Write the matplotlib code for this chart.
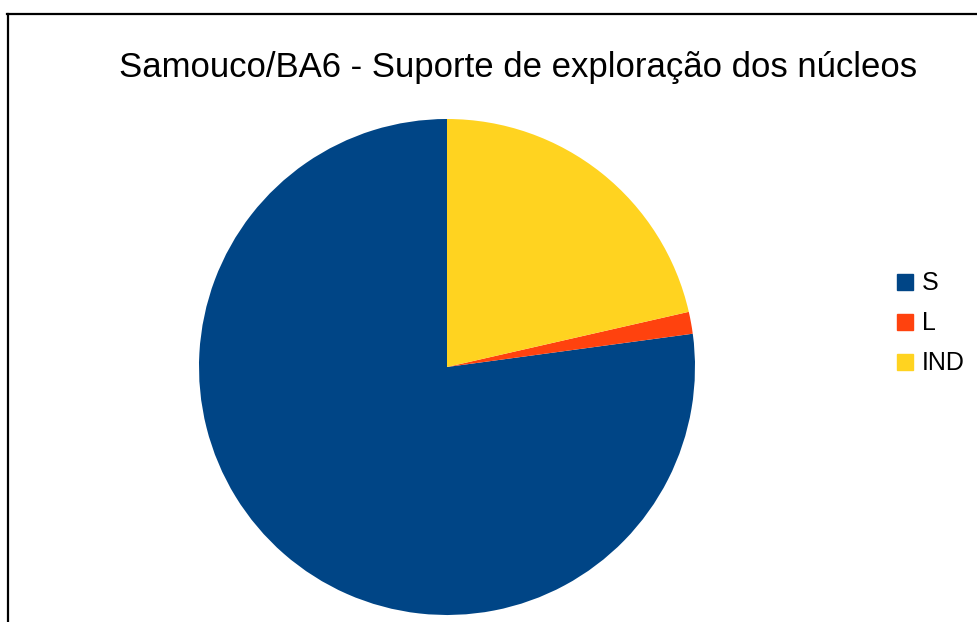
import matplotlib.pyplot as plt
from matplotlib.patches import Rectangle
from matplotlib.lines import Line2D

plt.rcParams['font.family'] = ['Liberation Sans', 'DejaVu Sans']

# data
labels = ['S', 'L', 'IND']
values = [54, 1, 15]
colors = ['#004586', '#ff420e', '#ffd320']
title = 'Samouco/BA6 - Suporte de exploração dos núcleos'

W, H = 977, 622
fig = plt.figure(figsize=(W / 100, H / 100), dpi=100)

# pie axes: centre (447, 367), radius 248 px
cx, cy, r = 447, 367, 248
ax = fig.add_axes([(cx - r) / W, (H - cy - r) / H, 2 * r / W, 2 * r / H])
ax.pie(values, colors=colors, startangle=90, counterclock=True, radius=1,
       wedgeprops=dict(linewidth=0))
ax.set_xlim(-1, 1)
ax.set_ylim(-1, 1)
ax.set_aspect('auto')
ax.axis('off')

fig.text(518 / W, 1 - 67 / H, title, ha='center', va='center', fontsize=25)

# legend
for i, (lab, col) in enumerate(zip(labels, colors)):
    yc = 282 + 40 * i
    fig.patches.append(Rectangle((897 / W, 1 - (yc + 8) / H), 16 / W, 16 / H,
                                 transform=fig.transFigure, color=col))
    fig.text(922 / W, 1 - (yc + 1) / H, lab, ha='left', va='center', fontsize=18)

# frame (partly cropped)
fig.lines.append(Line2D([7 / W, 1], [1 - 14 / H, 1 - 14 / H], transform=fig.transFigure,
                        color='black', linewidth=1.6))
fig.lines.append(Line2D([8 / W, 8 / W], [1 - 14 / H, 0], transform=fig.transFigure,
                        color='black', linewidth=1.6))

fig.savefig('out.png', dpi=100)
